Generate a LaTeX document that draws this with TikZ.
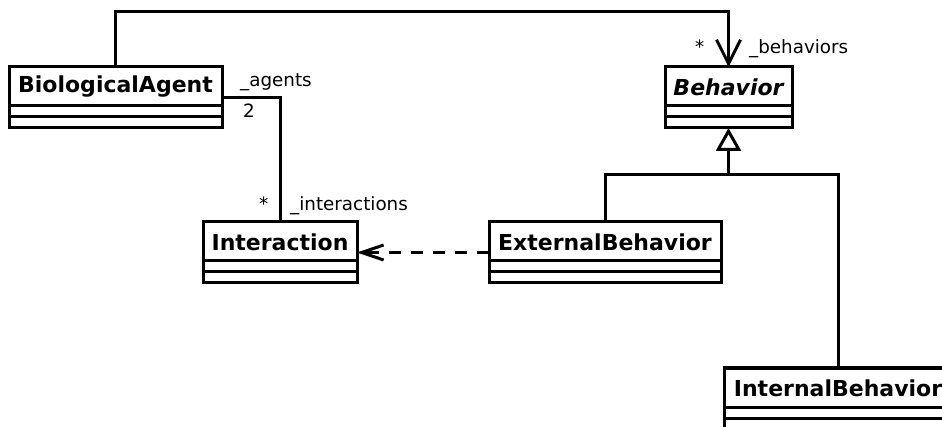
\documentclass[tikz,border=0pt]{standalone}
\usepackage{fontspec}
\setmainfont{DejaVu Sans}
\usetikzlibrary{arrows.meta}
\tikzset{
  clsbox/.style={draw, line width=3pt, inner sep=0pt, outer sep=0pt, fill=white},
  clsname/.style={inner sep=0pt, font=\fontsize{22}{25}\selectfont\bfseries},
  lbl/.style={inner sep=0pt, anchor=base west, font=\fontsize{18.3}{21}\selectfont},
  conn/.style={line width=3pt},
  navarrow/.style={conn, -{Straight Barb[length=24pt, width=24pt, line width=3pt]}},
  deparrow/.style={conn, dash pattern=on 12pt off 10pt, -{Straight Barb[length=22pt, width=15pt, line width=3pt]}},
  genarrow/.style={conn, -{Triangle[open, length=23pt, width=25pt, line width=3pt, fill=white]}}
}
\newcommand\umlcls[6]{%
  \node[clsbox, anchor=north west, minimum width={(#4-#2)*1pt}, minimum height={(#5-#3)*1pt}] (#1) at (#2,#3) {};
  \node[clsname] (#1-t) at ({(#2+#4)/2},{#3+20}) {#6};
  \draw[conn] (#2,{#3+39}) -- (#4,{#3+39});
  \draw[conn] (#2,{#3+50}) -- (#4,{#3+50});
}
\begin{document}
\begin{tikzpicture}[x=1pt, y=-1pt]
\useasboundingbox (0,0) rectangle (942,427);
\umlcls{ba}{9}{67}{222}{128}{BiologicalAgent}
\umlcls{beh}{665}{67}{792}{128}{\itshape Behavior}
\umlcls{int}{203}{222}{357}{283}{Interaction}
\umlcls{ext}{489}{222}{721}{283}{ExternalBehavior}
\umlcls{intb}{724}{368}{952}{429}{InternalBehavior}

\coordinate (top) at (0,12);
\draw[navarrow] (ba.north) -- (ba.north |- top) -| (beh.north);
\node[lbl] (m1) at (695,54) {*};
\node[lbl] (r1) at (749,54) {\_behaviors};

\draw[conn] (ba.east) -| (int.north);
\node[lbl] (r2) at (240,87) {\_agents};
\node[lbl] (m2) at (243,118) {2};
\node[lbl] (m3) at (259,211) {*};
\node[lbl] (r3) at (290,211) {\_interactions};

\draw[deparrow] (ext.west) -- (int.east);

\coordinate (j) at (728.5,175);
\draw[conn] (ext.north) |- (j);
\draw[conn] (intb.north) |- (j);
\draw[genarrow] (j) -- (beh.south);
\end{tikzpicture}
\end{document}
